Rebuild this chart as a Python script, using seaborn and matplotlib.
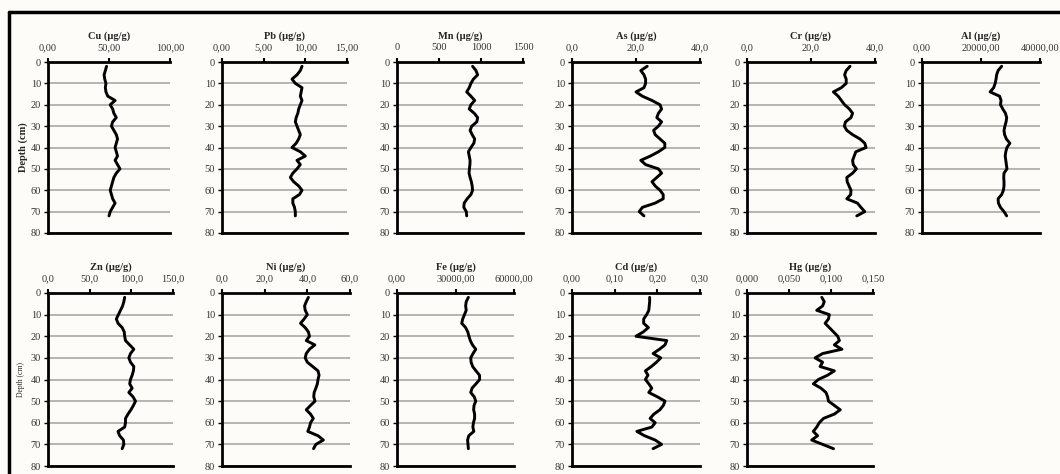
import matplotlib
matplotlib.use("Agg")
import matplotlib.pyplot as plt
import seaborn as sns
import pandas as pd
from matplotlib.lines import Line2D

# depth of each sample (cm)
depth = [2, 4, 6, 8, 10, 12, 14, 16, 18, 20, 22, 24, 26, 28, 30, 32, 34, 36,
         38, 40, 42, 44, 46, 48, 50, 52, 54, 56, 58, 60, 62, 64, 66, 68, 70, 72]

# concentrations (µg/g)
cu = [48, 47, 46, 46.5, 47.5, 47, 47.5, 49, 55, 51, 53, 54, 56, 53, 52, 54, 56, 57,
      56, 55, 56, 57, 55, 57, 59, 56, 54, 53, 52, 51, 52, 53, 55, 53, 51, 50]
pb = [9.6, 9.4, 9.0, 8.4, 8.8, 9.6, 9.5, 9.4, 9.6, 9.4, 9.2, 9.1, 8.9, 8.8, 9.0, 9.2, 9.4, 9.2,
      8.9, 8.4, 9.4, 10.0, 9.0, 9.4, 9.0, 8.5, 8.2, 8.6, 9.2, 9.6, 9.3, 8.5, 8.5, 8.7, 8.8, 8.8]
mn = [900, 940, 960, 910, 880, 860, 830, 880, 925, 880, 860, 920, 960, 950, 890, 870, 895, 925,
      915, 880, 850, 860, 870, 868, 862, 858, 870, 885, 895, 900, 880, 835, 800, 795, 825, 830]
as_ = [23.5, 21.5, 22.5, 23, 23, 22.5, 20, 22, 25, 27.5, 28, 27, 26.5, 28, 27, 25.5, 26, 27.5,
       29, 29, 27, 24.5, 21.5, 23, 27, 28, 26.5, 25, 26, 27.5, 28.5, 28.5, 26, 22, 21, 22.5]
cr = [32.2, 31, 30.5, 31, 31, 29.5, 27, 28.5, 29.5, 30.5, 32, 33, 32.5, 30.8, 30.4, 31.2, 33, 35.3,
      36.8, 37.2, 34, 33.5, 33, 33.2, 34.2, 33, 31.2, 31.3, 31.9, 32.5, 32.4, 31.2, 34.5, 35.6, 36.8, 34.3]
al = [27000, 25800, 25300, 25100, 24800, 24300, 23100, 26300, 26800, 26600, 27400, 28300,
      28700, 28500, 28100, 27800, 28000, 28600, 29800, 28800, 28400, 28200, 28400, 28600,
      28800, 27800, 27700, 27800, 27800, 27600, 27000, 25800, 25900, 26600, 27800, 28700]
zn = [92, 91, 89.5, 87, 84.5, 82, 84, 89, 91.5, 92, 93, 98, 103, 99, 97, 99, 103, 102.5,
      101, 99, 98, 101, 97, 102, 105, 102.5, 99.5, 96, 93, 93, 92, 84, 86, 90.5, 91, 89]
ni = [40.5, 39.5, 38.7, 39, 40, 38.5, 36.8, 39, 40.5, 41, 39.5, 43.5, 41, 39.5, 39, 40, 42.5, 45,
      45.5, 45, 44.7, 44, 43.2, 43, 43.6, 41.5, 39.5, 41.5, 42.8, 41.5, 41, 40.2, 45, 47.5, 44, 42.9]
fe = [36600, 35500, 35200, 35500, 34600, 33700, 33200, 35200, 36300, 36900, 37600, 38700,
      40400, 39000, 37800, 38000, 38800, 40500, 42300, 42400, 40500, 38500, 37800, 39600,
      40400, 39500, 39300, 39800, 39800, 39200, 38900, 39400, 36800, 36200, 36400, 36600]
cd = [0.182, 0.182, 0.181, 0.180, 0.175, 0.168, 0.168, 0.179, 0.167, 0.150, 0.222, 0.218,
      0.205, 0.190, 0.208, 0.198, 0.186, 0.172, 0.178, 0.172, 0.180, 0.187, 0.180, 0.200,
      0.218, 0.214, 0.206, 0.192, 0.183, 0.195, 0.187, 0.152, 0.170, 0.195, 0.210, 0.190]
hg = [0.089, 0.092, 0.090, 0.083, 0.098, 0.097, 0.093, 0.098, 0.103, 0.108, 0.110, 0.104,
      0.113, 0.090, 0.081, 0.090, 0.087, 0.104, 0.096, 0.085, 0.079, 0.088, 0.094, 0.096,
      0.097, 0.104, 0.111, 0.104, 0.091, 0.086, 0.083, 0.079, 0.084, 0.077, 0.090, 0.103]

elements = ["Cu", "Pb", "Mn", "As", "Cr", "Al", "Zn", "Ni", "Fe", "Cd", "Hg"]
values = [cu, pb, mn, as_, cr, al, zn, ni, fe, cd, hg]

x_ticks = [[0, 50, 100], [0, 5, 10, 15], [0, 500, 1000, 1500], [0, 20, 40], [0, 20, 40],
           [0, 20000, 40000], [0, 50, 100, 150], [0, 20, 40, 60], [0, 30000, 60000],
           [0, 0.1, 0.2, 0.3], [0, 0.05, 0.1, 0.15]]
x_labels = [["0,00", "50,00", "100,00"], ["0,00", "5,00", "10,00", "15,00"],
            ["0", "500", "1000", "1500"], ["0,0", "20,0", "40,0"], ["0,0", "20,0", "40,0"],
            ["0,00", "20000,00", "40000,00"], ["0,0", "50,0", "100,0", "150,0"],
            ["0,0", "20,0", "40,0", "60,0"], ["0,00", "30000,00", "60000,00"],
            ["0,00", "0,10", "0,20", "0,30"], ["0,000", "0,050", "0,100", "0,150"]]
depth_ticks = [0, 10, 20, 30, 40, 50, 60, 70, 80]

df = pd.DataFrame({
    "element": [e for e, v in zip(elements, values) for _ in v],
    "depth": [d for v in values for d in depth],
    "value": [x for v in values for x in v],
})

sns.set_style("ticks")
plt.rcParams["font.family"] = ["Liberation Serif", "DejaVu Serif"]

W, H = 1060, 474
bg = "#fdfcf8"
fig = plt.figure(figsize=(W / 100, H / 100), dpi=100, facecolor=bg)

# panel boxes in pixels: left, top, width, height
boxes = [(48, 62, 122, 171), (222, 62, 125, 171), (397, 62, 126, 171),
         (572, 62, 128, 171), (747, 62, 128, 171), (922, 62, 118, 171),
         (48, 293, 125, 173), (222, 293, 128, 173), (397, 293, 117, 173),
         (572, 293, 128, 173), (747, 293, 126, 173)]

for i, el in enumerate(elements):
    l, t, w, h = boxes[i]
    ax = fig.add_axes([l / W, 1 - (t + h) / H, w / W, h / H], facecolor=bg)
    sub = df[df["element"] == el]
    sns.lineplot(data=sub, x="value", y="depth", orient="y", estimator=None,
                 color="black", linewidth=2.1, solid_joinstyle="round",
                 solid_capstyle="round", ax=ax)
    ax.set_xlim(x_ticks[i][0], x_ticks[i][-1])
    ax.set_ylim(80, 0)
    ax.xaxis.tick_top()
    ax.set_xticks(x_ticks[i], x_labels[i])
    ax.set_yticks(depth_ticks, [str(d) for d in depth_ticks])
    ax.set_xlabel("")
    ax.set_ylabel("")
    ax.grid(axis="y", color="#a8a8a8", linewidth=1.2)
    ax.set_axisbelow(True)
    ax.spines["right"].set_visible(False)
    for s in ["top", "left", "bottom"]:
        ax.spines[s].set_linewidth(2)
        ax.spines[s].set_color("black")
    ax.tick_params(axis="x", which="both", top=True, bottom=False, length=3, width=1.5,
                   labelsize=7.5, pad=4, colors="black", labelcolor="#333333")
    ax.tick_params(axis="y", length=3, width=1, labelsize=7.5, pad=2,
                   colors="black", labelcolor="#333333")
    ax.set_title(f"{el} (µg/g)", fontsize=7.5, fontweight="bold", y=1.0, pad=17)
    if i == 0:
        ax.set_ylabel("Depth (cm)", fontsize=7.5, fontweight="bold", labelpad=2)
    if i == 6:
        ax.set_ylabel("Depth (cm)", fontsize=5.5, labelpad=4)

# black frame on top and left
fig.add_artist(Line2D([8.5 / W, 1], [1 - 12 / H, 1 - 12 / H], color="black", lw=2.5,
                      transform=fig.transFigure))
fig.add_artist(Line2D([8.5 / W, 8.5 / W], [0, 1 - 12 / H], color="black", lw=2.5,
                      transform=fig.transFigure))

fig.savefig("out.png", dpi=100, facecolor=bg)
